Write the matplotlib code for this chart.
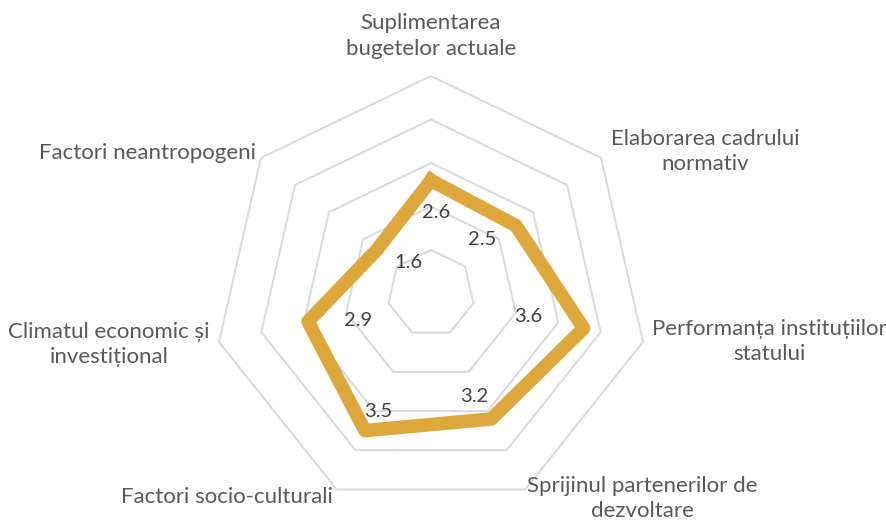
import numpy as np
import matplotlib.pyplot as plt

categories = ['Suplimentarea\nbugetelor actuale', 'Elaborarea cadrului\nnormativ',
              'Performanța instituțiilor\nstatului', 'Sprijinul partenerilor de\ndezvoltare',
              'Factori socio-culturali', 'Climatul economic și\ninvestițional',
              'Factori neantropogeni']
values = [2.6, 2.5, 3.6, 3.2, 3.5, 2.9, 1.6]
rings = [1, 2, 3, 4, 5]

plt.rcParams['font.family'] = ['Lato', 'DejaVu Sans']

n = len(categories)
ang = np.arange(n) * 2 * np.pi / n
ang_c = np.append(ang, ang[0])

fig = plt.figure(figsize=(8.87, 5.22), dpi=100)
ax = fig.add_axes([0.2407, 0.0211, 0.4904, 0.8333], projection='polar')
ax.set_theta_zero_location('N')
ax.set_theta_direction(-1)
ax.set_ylim(0, 5)
ax.grid(False)
ax.spines['polar'].set_visible(False)
ax.set_xticks([])
ax.set_yticks([])
ax.patch.set_alpha(0)

# grid polygons
for r in rings:
    ax.plot(ang_c, [r] * (n + 1), color='#d9d9d9', lw=1.4, zorder=1, clip_on=False)

# data line
vals_c = values + values[:1]
ax.plot(ang_c, vals_c, color='#dda73b', lw=9.8, solid_joinstyle='round', zorder=3, clip_on=False)

# data labels (pixel offsets from the point)
offs = [(5, -32), (-34, -14), (-55, 12), (-17, 22), (13, 19), (50, 1), (32, -12)]
for a, v, o in zip(ang, values, offs):
    ax.annotate(f'{v:.1f}', xy=(a, v), xytext=o, textcoords='offset pixels',
                ha='center', va='center', fontsize=14.5,
                color='#404040', zorder=4)

# category labels
cat_offs = [(0, 40), (10, 6), (9, 0), (2, -9), (-4, -8), (-9, -3), (-5, 5)]
cat_ha = ['center', 'left', 'left', 'left', 'right', 'right', 'right']
for a, lab, o, h in zip(ang, categories, cat_offs, cat_ha):
    ax.annotate(lab, xy=(a, 5), xytext=o, textcoords='offset pixels',
                ha=h, va='center', multialignment='center',
                fontsize=16, color='#595959',
                linespacing=1.32, annotation_clip=False)

fig.savefig('out.png', dpi=100)
